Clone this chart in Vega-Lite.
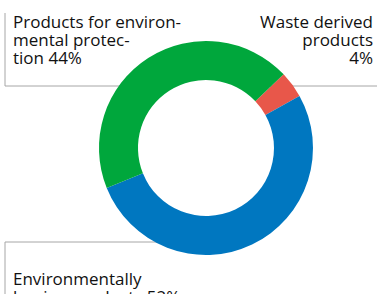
{
  "$schema": "https://vega.github.io/schema/vega-lite/v6.json",
  "width": 377,
  "height": 294,
  "autosize": "none",
  "padding": 0,
  "background": "white",
  "view": {"stroke": null},
  "datasets": {
    "rules": [
      {"x": 5, "y": 13, "x2": 5, "y2": 86},
      {"x": 5, "y": 86, "x2": 140, "y2": 86},
      {"x": 270, "y": 86, "x2": 377, "y2": 86},
      {"x": 5, "y": 242, "x2": 160, "y2": 242},
      {"x": 5, "y": 242, "x2": 5, "y2": 294}
    ],
    "slices": [
      {"category": "Waste derived products", "value": 4, "order": 1, "cx": 206, "cy": 148},
      {"category": "Environmentally benign products", "value": 52, "order": 2, "cx": 206, "cy": 148},
      {"category": "Products for environmental protection", "value": 44, "order": 3, "cx": 206, "cy": 148}
    ],
    "leftLabels": [
      {"x": 13, "y": 28, "text": "Products for environ-"},
      {"x": 13, "y": 46, "text": "mental protec-"},
      {"x": 13, "y": 64, "text": "tion 44%"},
      {"x": 13, "y": 285, "text": "Environmentally"},
      {"x": 13, "y": 303, "text": "benign products 52%"}
    ],
    "rightLabels": [
      {"x": 373, "y": 28, "text": "Waste derived"},
      {"x": 373, "y": 46, "text": "products"},
      {"x": 373, "y": 64, "text": "4%"}
    ]
  },
  "layer": [
    {
      "data": {"name": "rules"},
      "mark": {"type": "rule", "color": "#a6a6a6", "strokeWidth": 1},
      "encoding": {
        "x": {"field": "x", "type": "quantitative", "scale": {"domain": [0, 377], "nice": false, "zero": false}, "axis": null},
        "y": {"field": "y", "type": "quantitative", "scale": {"domain": [0, 294], "nice": false, "zero": false, "reverse": true}, "axis": null},
        "x2": {"field": "x2"},
        "y2": {"field": "y2"}
      }
    },
    {
      "data": {"name": "slices"},
      "mark": {"type": "arc", "outerRadius": 107, "innerRadius": 68},
      "encoding": {
        "x": {"field": "cx", "type": "quantitative", "scale": {"domain": [0, 377], "nice": false, "zero": false}, "axis": null},
        "y": {"field": "cy", "type": "quantitative", "scale": {"domain": [0, 294], "nice": false, "zero": false, "reverse": true}, "axis": null},
        "theta": {"field": "value", "type": "quantitative", "stack": true, "scale": {"range": [0.8116, 7.0948]}},
        "order": {"field": "order", "type": "quantitative"},
        "color": {
          "field": "category",
          "type": "nominal",
          "scale": {
            "domain": ["Waste derived products", "Environmentally benign products", "Products for environmental protection"],
            "range": ["#e8574a", "#0077c0", "#00a73c"]
          },
          "legend": null
        }
      }
    },
    {
      "data": {"name": "leftLabels"},
      "mark": {"type": "text", "font": "Open Sans", "fontSize": 17, "color": "#111111", "baseline": "alphabetic", "align": "left"},
      "encoding": {
        "x": {"field": "x", "type": "quantitative", "scale": {"domain": [0, 377], "nice": false, "zero": false}, "axis": null},
        "y": {"field": "y", "type": "quantitative", "scale": {"domain": [0, 294], "nice": false, "zero": false, "reverse": true}, "axis": null},
        "text": {"field": "text"}
      }
    },
    {
      "data": {"name": "rightLabels"},
      "mark": {"type": "text", "font": "Open Sans", "fontSize": 17, "color": "#111111", "baseline": "alphabetic", "align": "right"},
      "encoding": {
        "x": {"field": "x", "type": "quantitative", "scale": {"domain": [0, 377], "nice": false, "zero": false}, "axis": null},
        "y": {"field": "y", "type": "quantitative", "scale": {"domain": [0, 294], "nice": false, "zero": false, "reverse": true}, "axis": null},
        "text": {"field": "text"}
      }
    }
  ]
}
